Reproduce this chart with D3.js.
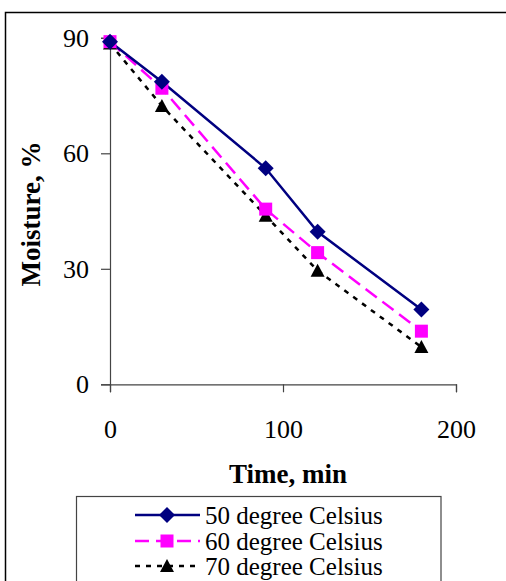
<!DOCTYPE html>
<html>
<head>
<meta charset="utf-8">
<script src="https://cdn.jsdelivr.net/npm/d3@7"></script>
<style>
html,body{margin:0;padding:0;background:#fff;}
svg{display:block;}
</style>
</head>
<body>
<svg id="chart" width="506" height="581"></svg>
<script>
const times = [0, 30, 90, 120, 180];
const moisture50 = [89, 78.6, 56.1, 39.6, 19.4];
const moisture60 = [89, 76.9, 45.5, 34.2, 13.8];
const moisture70 = [88.5, 72.3, 43.8, 29.5, 9.7];
const seriesNames = ["50 degree Celsius", "60 degree Celsius", "70 degree Celsius"];
const xTicks = [0, 100, 200];
const yTicks = [0, 30, 60, 90];

const FONT = "'Liberation Serif', 'Times New Roman', Times, serif";

const series = [
  {name: seriesNames[0], values: moisture50, color: "#000080", dash: null, marker: "diamond"},
  {name: seriesNames[1], values: moisture60, color: "#FF00FF", dash: "14,7", marker: "square"},
  {name: seriesNames[2], values: moisture70, color: "#000000", dash: "5,6", marker: "triangle"}
];

const svg = d3.select("#chart");

// outer frame
svg.append("rect").attr("x", 5.5).attr("y", 12.5).attr("width", 520).attr("height", 600)
  .attr("fill", "none").attr("stroke", "#000").attr("stroke-width", 1.5);

const x = d3.scaleLinear().domain([0, 200]).range([110, 456]);
const y = d3.scaleLinear().domain([0, 90]).range([384.3, 37.8]);

// y axis
const yAxis = d3.axisLeft(y).tickValues(yTicks).tickSize(9).tickPadding(12).tickFormat(d3.format("d"));
const gy = svg.append("g").attr("transform", "translate(110,0)").call(yAxis);
gy.attr("font-family", null);
gy.select(".domain").attr("stroke", "#444").attr("stroke-width", 1.2);
gy.selectAll(".tick line").attr("stroke", "#444").attr("stroke-width", 1.2);
gy.selectAll(".tick text").style("font-size", "26px").attr("fill", "#000")
  .style("font-family", FONT);

// x axis
const xAxis = d3.axisBottom(x).tickValues(xTicks).tickSize(8).tickPadding(27).tickFormat(d3.format("d"));
const gx = svg.append("g").attr("transform", "translate(0,384.3)").call(xAxis);
gx.attr("font-family", null);
gx.select(".domain").attr("stroke", "#444").attr("stroke-width", 1.2);
gx.selectAll(".tick line").attr("stroke", "#444").attr("stroke-width", 1.2);
gx.selectAll(".tick text").style("font-size", "26px").attr("fill", "#000")
  .style("font-family", FONT);

// titles
svg.append("text").attr("x", 288).attr("y", 483).attr("text-anchor", "middle")
  .style("font-family", FONT).style("font-size", "27px").style("font-weight", "bold").text("Time, min");
svg.append("text").attr("transform", "translate(40,214) rotate(-90)").attr("text-anchor", "middle")
  .style("font-family", FONT).style("font-size", "27px").style("font-weight", "bold").text("Moisture, %");

const line = d3.line().x((d, i) => x(times[i])).y(d => y(d));

function drawMarker(g, type, color, cx, cy) {
  if (type === "diamond") {
    g.append("path").attr("d", `M${cx},${cy-8}L${cx+8},${cy}L${cx},${cy+8}L${cx-8},${cy}Z`).attr("fill", color);
  } else if (type === "square") {
    g.append("rect").attr("x", cx-6.5).attr("y", cy-6.5).attr("width", 13).attr("height", 13).attr("fill", color);
  } else {
    g.append("path").attr("d", `M${cx},${cy-7}L${cx+7},${cy+6}L${cx-7},${cy+6}Z`).attr("fill", color);
  }
}

const plot = svg.append("g");
series.slice().reverse().forEach(s => {
  plot.append("path").datum(s.values).attr("d", line).attr("fill", "none")
    .attr("stroke", s.color).attr("stroke-width", 2.5)
    .attr("stroke-dasharray", s.dash);
});
series.slice().reverse().forEach(s => {
  const g = plot.append("g");
  s.values.forEach((v, i) => drawMarker(g, s.marker, s.color, x(times[i]), y(v)));
});

// legend
svg.append("rect").attr("x", 76.5).attr("y", 496.5).attr("width", 364.5).attr("height", 120)
  .attr("fill", "#fff").attr("stroke", "#444").attr("stroke-width", 1.2);
const legY = [515, 541, 566];
series.forEach((s, i) => {
  const g = svg.append("g");
  g.append("line").attr("x1", 135).attr("x2", 200).attr("y1", legY[i]).attr("y2", legY[i])
    .attr("stroke", s.color).attr("stroke-width", 2.5).attr("stroke-dasharray", s.dash);
  drawMarker(g, s.marker, s.color, 167, legY[i]);
  g.append("text").attr("x", 205).attr("y", legY[i] + 9)
    .style("font-family", FONT).style("font-size", "25px").text(s.name);
});
</script>
</body>
</html>
